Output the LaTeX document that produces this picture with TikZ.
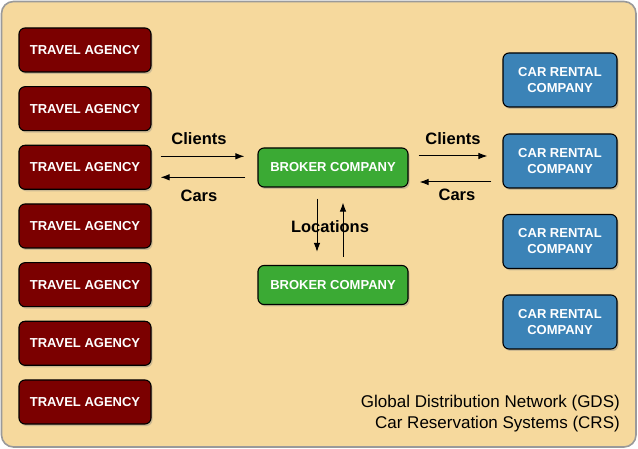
\documentclass[tikz,border=0pt]{standalone}
\usepackage{fontspec}
\setmainfont{Liberation Sans}
\usetikzlibrary{shadows,arrows.meta}
\definecolor{bgfill}{HTML}{F6D99D}
\definecolor{bgline}{HTML}{9A9A9A}
\definecolor{tared}{HTML}{7B0000}
\definecolor{brgreen}{HTML}{3BAA34}
\definecolor{crblue}{HTML}{3B83B7}
\tikzset{
  box/.style={draw=black, line width=1.1pt, rounded corners=6pt, text=white,
    font=\fontsize{13}{16}\selectfont\bfseries, align=center, inner sep=0pt,
    drop shadow={opacity=0.35, shadow xshift=1.5pt, shadow yshift=-2pt}},
  tabox/.style={box, fill=tared, minimum width=132pt, minimum height=44pt},
  brbox/.style={box, fill=brgreen, minimum width=150pt, minimum height=39pt},
  crbox/.style={box, fill=crblue, minimum width=114pt, minimum height=54pt},
  arr/.style={draw=black, line width=1pt, -{Latex[length=9pt,width=6.5pt]}},
  lbl/.style={font=\fontsize{16.5}{20}\selectfont\bfseries, text=black, inner sep=0pt}
}
\begin{document}
\begin{tikzpicture}[x=1pt,y=-1pt]
\useasboundingbox (0,0) rectangle (638,449);
\fill[white] (0,0) rectangle (638,449);
\draw[fill=bgfill, draw=bgline, line width=1.6pt, rounded corners=12pt] (1.5,1.5) rectangle (636,447);
% travel agencies
\foreach \i/\y in {1/50,2/108.7,3/167.3,4/226,5/284.7,6/343.3,7/402}{
  \node[tabox] (ta\i) at (85,\y) {TRAVEL AGENCY};
}
% brokers
\node[brbox] (b1) at (333,167.5) {BROKER COMPANY};
\node[brbox] (b2) at (333,285) {BROKER COMPANY};
% car rentals
\foreach \i/\y in {1/80,2/161,3/241.5,4/322}{
  \node[crbox] (cr\i) at (560,\y) {CAR RENTAL\\COMPANY};
}
% left arrows
\draw[arr, shorten <=9pt, shorten >=13pt] ([yshift=11pt]ta3.east) -- ([yshift=11pt]ta3.east -| b1.west);
\draw[arr, shorten <=12pt, shorten >=9pt] ([yshift=-10pt]ta3.east -| b1.west) -- ([yshift=-10pt]ta3.east);
\node[lbl] (lcl) at (199,139) {Clients};
\node[lbl] (lca) at (199,196) {Cars};
% right arrows
\draw[arr, shorten <=10pt, shorten >=15pt] ([yshift=11.5pt]b1.east) -- ([yshift=11.5pt]b1.east -| cr2.west);
\draw[arr, shorten <=11pt, shorten >=11pt] ([yshift=-14.5pt]b1.east -| cr2.west) -- ([yshift=-14.5pt]b1.east);
\node[lbl] (rcl) at (453,139) {Clients};
\node[lbl] (rca) at (457,195) {Cars};
% vertical arrows
\draw[arr, shorten <=11pt, shorten >=13pt] ([xshift=-16pt]b1.south) -- ([xshift=-16pt]b2.north);
\draw[arr, shorten <=8pt, shorten >=15pt] ([xshift=10pt]b2.north) -- ([xshift=10pt]b1.south);
\node[lbl] (loc) at (330,227) {Locations};
% caption
\node[anchor=east, align=right, inner sep=0pt, font=\fontsize{17}{21}\selectfont, text=black] (cap) at (620,414)
  {Global Distribution Network (GDS)\\Car Reservation Systems (CRS)};
\end{tikzpicture}
\end{document}
